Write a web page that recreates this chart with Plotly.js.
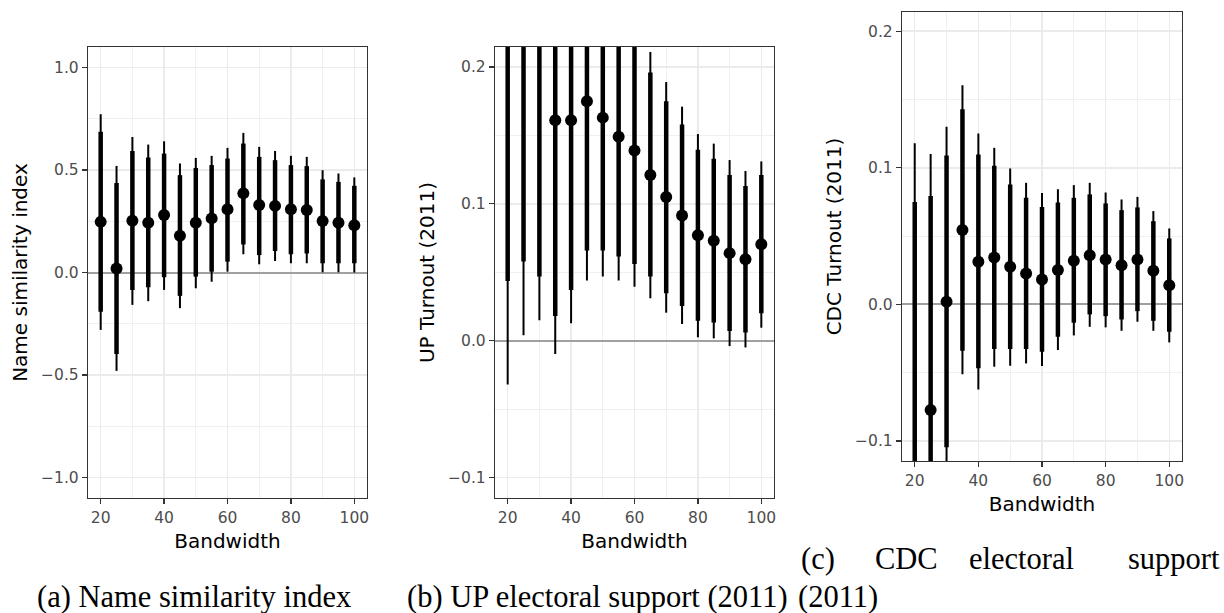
<!DOCTYPE html>
<html>
<head>
<meta charset="utf-8">
<script src="https://cdn.plot.ly/plotly-3.0.1.min.js"></script>
<style>html,body{margin:0;padding:0;background:#fff;}#chart{width:1224px;height:613px;}</style>
</head>
<body>
<div id="chart"></div>
<script>
const bandwidth = [20,25,30,35,40,45,50,55,60,65,70,75,80,85,90,95,100];

// (a) Name similarity index
const estA     = [0.247, 0.020, 0.252, 0.243, 0.280, 0.179, 0.243, 0.264, 0.308, 0.386, 0.329, 0.325, 0.309, 0.305, 0.251, 0.243, 0.231];
const thickLoA = [-0.191, -0.397, -0.085, -0.072, -0.023, -0.114, -0.020, 0.004, 0.053, 0.137, 0.085, 0.105, 0.089, 0.093, 0.045, 0.045, 0.045];
const thickHiA = [0.686, 0.437, 0.593, 0.561, 0.580, 0.475, 0.510, 0.524, 0.556, 0.629, 0.564, 0.548, 0.524, 0.519, 0.454, 0.442, 0.423];
const thinLoA  = [-0.280, -0.480, -0.158, -0.140, -0.085, -0.174, -0.077, -0.045, 0.004, 0.089, 0.040, 0.056, 0.045, 0.045, 0.001, 0.001, 0.000];
const thinHiA  = [0.772, 0.520, 0.661, 0.624, 0.640, 0.532, 0.559, 0.569, 0.608, 0.681, 0.613, 0.593, 0.569, 0.564, 0.499, 0.483, 0.464];

// (b) UP Turnout (2011)
const estB     = [0.440, 0.343, 0.225, 0.161, 0.161, 0.175, 0.163, 0.149, 0.139, 0.121, 0.105, 0.0915, 0.077, 0.073, 0.064, 0.0595, 0.0705];
const thickLoB = [0.0437, 0.0578, 0.047, 0.018, 0.037, 0.066, 0.066, 0.0615, 0.056, 0.047, 0.0347, 0.0254, 0.0146, 0.0134, 0.0071, 0.0061, 0.020];
const thickHiB = [0.836, 0.628, 0.403, 0.304, 0.285, 0.283, 0.260, 0.236, 0.222, 0.196, 0.175, 0.158, 0.1395, 0.133, 0.121, 0.113, 0.121];
const thinLoB  = [-0.032, 0.004, 0.015, -0.0097, 0.0127, 0.044, 0.047, 0.044, 0.0395, 0.031, 0.0205, 0.0122, 0.0025, 0.0017, -0.0039, -0.0049, 0.0095];
const thinHiB  = [0.912, 0.682, 0.435, 0.332, 0.309, 0.305, 0.278, 0.254, 0.238, 0.211, 0.189, 0.171, 0.151, 0.144, 0.132, 0.124, 0.131];

// (c) CDC Turnout (2011)
const estC     = [-0.140, -0.0773, 0.0019, 0.0544, 0.0312, 0.0344, 0.0275, 0.0227, 0.0183, 0.0251, 0.0319, 0.036, 0.0329, 0.0287, 0.0329, 0.0246, 0.0141];
const thickLoC = [-0.355, -0.234, -0.1046, -0.034, -0.0468, -0.0327, -0.0327, -0.0327, -0.0347, -0.0237, -0.0134, -0.0073, -0.0086, -0.011, -0.0049, -0.012, -0.020];
const thickHiC = [0.075, 0.0794, 0.109, 0.1429, 0.1097, 0.1014, 0.0878, 0.078, 0.0712, 0.0746, 0.078, 0.0805, 0.0739, 0.069, 0.071, 0.0609, 0.0483];
const thinLoC  = [-0.398, -0.265, -0.126, -0.0512, -0.0622, -0.0456, -0.0449, -0.0432, -0.0451, -0.0334, -0.0227, -0.0164, -0.0168, -0.0193, -0.0127, -0.0193, -0.0278];
const thinHiC  = [0.118, 0.110, 0.130, 0.1604, 0.125, 0.1146, 0.0995, 0.089, 0.0816, 0.0843, 0.0873, 0.089, 0.0819, 0.0768, 0.0787, 0.0683, 0.0556];

const yTitles = ["Name similarity index", "UP Turnout (2011)", "CDC Turnout (2011)"];
const xTitle = "Bandwidth";

function segs(lo, hi) {
  const x = [], y = [];
  bandwidth.forEach((b, i) => { x.push(b, b, null); y.push(lo[i], hi[i], null); });
  return {x, y};
}

const panels = [
  {est: estA, tl: thickLoA, th: thickHiA, nl: thinLoA, nh: thinHiA, xa: 'x', ya: 'y'},
  {est: estB, tl: thickLoB, th: thickHiB, nl: thinLoB, nh: thinHiB, xa: 'x2', ya: 'y2'},
  {est: estC, tl: thickLoC, th: thickHiC, nl: thinLoC, nh: thinHiC, xa: 'x3', ya: 'y3'}
];

const traces = [];
panels.forEach(p => {
  const thin = segs(p.nl, p.nh);
  const thick = segs(p.tl, p.th);
  traces.push({type: 'scatter', mode: 'lines', x: thin.x, y: thin.y, xaxis: p.xa, yaxis: p.ya,
    line: {color: '#000', width: 2}, hoverinfo: 'skip', showlegend: false});
  traces.push({type: 'scatter', mode: 'lines', x: thick.x, y: thick.y, xaxis: p.xa, yaxis: p.ya,
    line: {color: '#000', width: 4.5}, hoverinfo: 'skip', showlegend: false});
  traces.push({type: 'scatter', mode: 'markers', x: bandwidth, y: p.est, xaxis: p.xa, yaxis: p.ya,
    marker: {color: '#000', size: 12}, cliponaxis: true, showlegend: false});
});

const W = 1224, H = 613;
function xd(a, b) { return [a / W, b / W]; }
function yd(top, bottom) { return [1 - bottom / H, 1 - top / H]; }

const tickFont = {family: 'DejaVu Sans', size: 15.5, color: '#4D4D4D'};
const titleFont = {family: 'DejaVu Sans', size: 20, color: '#000'};

function xaxis(domain, anchor) {
  return {
    domain, anchor, range: [16, 104], tickvals: [20, 40, 60, 80, 100],
    showgrid: true, gridcolor: '#EBEBEB', gridwidth: 1.5,
    minor: {tickvals: [30, 50, 70, 90], showgrid: true, gridcolor: '#F0F0F0', gridwidth: 1, ticks: ''},
    zeroline: false, showline: true, mirror: true, linecolor: '#333', linewidth: 1.2,
    ticks: 'outside', ticklen: 5, tickwidth: 1.2, tickcolor: '#333', tickfont: tickFont,
    title: {text: xTitle, font: titleFont, standoff: 8}, automargin: false
  };
}
function yaxis(domain, anchor, range, tv, mv, title) {
  return {
    domain, anchor, range, tickvals: tv, tickformat: '.1f',
    showgrid: true, gridcolor: '#EBEBEB', gridwidth: 1.5,
    minor: {tickvals: mv, showgrid: true, gridcolor: '#F0F0F0', gridwidth: 1, ticks: ''},
    zeroline: true, zerolinecolor: '#A0A0A0', zerolinewidth: 2,
    showline: true, mirror: true, linecolor: '#333', linewidth: 1.2,
    ticks: 'outside', ticklen: 5, tickwidth: 1.2, tickcolor: '#333', tickfont: tickFont,
    title: {text: title, font: titleFont, standoff: 8}, automargin: false
  };
}

const capFont = {family: 'Liberation Serif', size: 30.5, color: '#000'};
function cap(text, x, y, anchor) {
  return {text, xref: 'paper', yref: 'paper', x: x / W, y: 1 - y / H, xanchor: anchor || 'left', yanchor: 'middle',
    showarrow: false, font: capFont};
}

const layout = {
  width: W, height: H, margin: {l: 0, r: 0, t: 0, b: 0},
  paper_bgcolor: '#fff', plot_bgcolor: '#fff', showlegend: false,
  xaxis: xaxis(xd(88, 367), 'y'),
  yaxis: yaxis(yd(47, 498), 'x', [-1.1, 1.1], [-1, -0.5, 0, 0.5, 1], [-0.75, -0.25, 0.25, 0.75], yTitles[0]),
  xaxis2: xaxis(xd(495, 774), 'y2'),
  yaxis2: yaxis(yd(47, 498), 'x2', [-0.1149, 0.2146], [-0.1, 0, 0.1, 0.2], [-0.05, 0.05, 0.15], yTitles[1]),
  xaxis3: xaxis(xd(902, 1182), 'y3'),
  yaxis3: yaxis(yd(12, 461), 'x3', [-0.1146, 0.214], [-0.1, 0, 0.1, 0.2], [-0.05, 0.05, 0.15], yTitles[2]),
  annotations: [
    cap('(a) Name similarity index', 35, 597),
    cap('(b) UP electoral support (2011)', 405, 597),
    cap('(2011)', 796, 597),
    cap('(c)', 799, 559),
    cap('CDC', 873, 559),
    cap('electoral', 967, 559),
    cap('support', 1222, 559, 'right')
  ]
};

Plotly.newPlot('chart', traces, layout, {staticPlot: true, displayModeBar: false});
</script>
</body>
</html>
